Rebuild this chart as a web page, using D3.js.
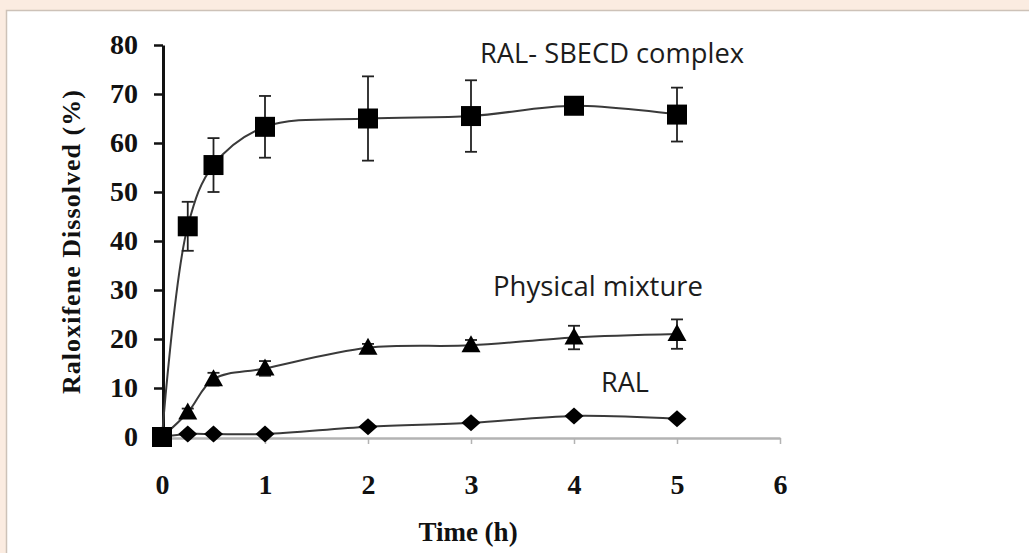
<!DOCTYPE html>
<html>
<head>
<meta charset="utf-8">
<script src="https://cdn.jsdelivr.net/npm/d3@7"></script>
<style>
  html, body { margin: 0; padding: 0; background: #fbece1; }
  svg { display: block; }
</style>
</head>
<body>
<svg id="chart"></svg>
<script>
const width = 1029;
const height = 553;

// sampling times (h)
const times = [0, 0.25, 0.5, 1, 2, 3, 4, 5];
// RAL-SBECD complex
const complexMean = [0, 43, 55.5, 63.3, 65, 65.5, 67.6, 65.8];
const complexErr = [0, 5, 5.5, 6.3, 8.6, 7.3, 0.8, 5.5];
// physical mixture
const mixtureMean = [0, 5, 11.8, 14, 18.2, 18.7, 20.3, 21];
const mixtureErr = [0, 0.8, 1.3, 1.5, 0.8, 1.1, 2.4, 3];
// pure RAL
const ralMean = [0, 0.6, 0.6, 0.6, 2.1, 2.9, 4.3, 3.7];
const ralErr = [0, 0, 0, 0, 0, 0, 0, 0];

const xTicks = [0, 1, 2, 3, 4, 5, 6];
const yTicks = [0, 10, 20, 30, 40, 50, 60, 70, 80];

const seriesNames = ["RAL- SBECD complex", "Physical mixture", "RAL"];

let xScale = d3.scaleLinear()
            .domain([0, 6])
            .range([162, 780]);
let yScale = d3.scaleLinear()
            .domain([0, 80])
            .range([437, 45]);

let svg = d3.select("#chart")
            .attr("width", width)
            .attr("height", height);

// page background + white panel
svg.append("rect")
    .attr("width", width).attr("height", height)
    .attr("fill", "#fbece1");
svg.append("rect")
    .attr("x", 6.5).attr("y", 10.5)
    .attr("width", width).attr("height", height)
    .attr("fill", "#ffffff")
    .attr("stroke", "#cdc2b8")
    .attr("stroke-width", 1.5);

const serif = "'Liberation Serif', 'DejaVu Serif', serif";

//Axes
let xAxis = d3.axisBottom(xScale)
            .tickValues(xTicks)
            .tickFormat(d3.format("d"))
            .tickSizeInner(6)
            .tickSizeOuter(0)
            .tickPadding(30);
let yAxis = d3.axisLeft(yScale)
            .tickValues(yTicks)
            .tickFormat(d3.format("d"))
            .tickSizeInner(9)
            .tickSizeOuter(0)
            .tickPadding(16);

let gx = svg.append("g")
    .attr("transform", `translate(0, ${yScale(0) + 1})`)
    .call(xAxis);
gx.select(".domain").attr("stroke", "#b3b3b3").attr("stroke-width", 2.5);
gx.selectAll(".tick line").attr("stroke", "#b3b3b3").attr("stroke-width", 1.5);
gx.selectAll(".tick text")
    .attr("fill", "#111")
    .style("font-family", serif)
    .style("font-weight", "bold")
    .style("font-size", "28px");

let gy = svg.append("g")
    .attr("transform", `translate(${xScale(0) + 1}, 0)`)
    .call(yAxis);
gy.select(".domain").attr("stroke", "#111").attr("stroke-width", 3);
gy.selectAll(".tick line").attr("stroke", "#111").attr("stroke-width", 2.5);
gy.selectAll(".tick text")
    .attr("fill", "#111")
    .style("font-family", serif)
    .style("font-weight", "bold")
    .style("font-size", "28px");

// axis titles
svg.append("text")
    .attr("transform", "translate(74, 242) rotate(-90)")
    .attr("text-anchor", "middle")
    .attr("dominant-baseline", "middle")
    .attr("textLength", 304)
    .attr("fill", "#111")
    .style("font-family", serif)
    .style("font-weight", "bold")
    .style("font-size", "26px")
    .text("Raloxifene Dissolved (%)");

svg.append("text")
    .attr("x", 468)
    .attr("y", 541)
    .attr("text-anchor", "middle")
    .attr("fill", "#111")
    .style("font-family", serif)
    .style("font-weight", "bold")
    .style("font-size", "27px")
    .text("Time (h)");

// series
const series = [
    { name: seriesNames[2], mean: ralMean, err: ralErr, shape: "diamond" },
    { name: seriesNames[1], mean: mixtureMean, err: mixtureErr, shape: "triangle" },
    { name: seriesNames[0], mean: complexMean, err: complexErr, shape: "square" }
];

let line = d3.line()
    .x(d => xScale(d.t))
    .y(d => yScale(d.v))
    .curve(d3.curveCatmullRom.alpha(0.5));

const shapes = {
    square: "M-10,-10H10V10H-10Z",
    triangle: "M0,-10L9.5,7L-9.5,7Z",
    diamond: "M0,-8.5L9.5,0L0,8.5L-9.5,0Z"
};

series.forEach(s => {
    let pts = times.map((t, i) => ({ t: t, v: s.mean[i], e: s.err[i] }));
    let g = svg.append("g");

    g.append("path")
        .datum(pts)
        .attr("d", line)
        .attr("fill", "none")
        .attr("stroke", "#3a3a3a")
        .attr("stroke-width", 2);

    let eb = g.selectAll(".err")
        .data(pts.filter(d => d.e > 0))
        .enter()
        .append("g")
        .attr("stroke", "#222")
        .attr("stroke-width", 1.8);
    eb.append("line")
        .attr("x1", d => xScale(d.t)).attr("x2", d => xScale(d.t))
        .attr("y1", d => yScale(d.v + d.e)).attr("y2", d => yScale(d.v - d.e));
    eb.append("line")
        .attr("x1", d => xScale(d.t) - 6).attr("x2", d => xScale(d.t) + 6)
        .attr("y1", d => yScale(d.v + d.e)).attr("y2", d => yScale(d.v + d.e));
    eb.append("line")
        .attr("x1", d => xScale(d.t) - 6).attr("x2", d => xScale(d.t) + 6)
        .attr("y1", d => yScale(d.v - d.e)).attr("y2", d => yScale(d.v - d.e));

    g.selectAll(".marker")
        .data(pts)
        .enter()
        .append("path")
        .attr("transform", d => `translate(${xScale(d.t)}, ${yScale(d.v)})`)
        .attr("d", shapes[s.shape])
        .attr("fill", "#000");
});

// series labels
const labelFont = "'Open Sans', Lato, 'Liberation Sans', sans-serif";
svg.append("text")
    .attr("x", 480).attr("y", 63)
    .attr("textLength", 264)
    .attr("lengthAdjust", "spacingAndGlyphs")
    .attr("fill", "#1c1c1c")
    .style("font-family", labelFont)
    .style("font-size", "27px")
    .text(seriesNames[0]);
svg.append("text")
    .attr("x", 493).attr("y", 296)
    .attr("textLength", 210)
    .attr("lengthAdjust", "spacingAndGlyphs")
    .attr("fill", "#1c1c1c")
    .style("font-family", labelFont)
    .style("font-size", "27px")
    .text(seriesNames[1]);
svg.append("text")
    .attr("x", 601).attr("y", 392)
    .attr("fill", "#1c1c1c")
    .style("font-family", labelFont)
    .style("font-size", "27px")
    .text(seriesNames[2]);
</script>
</body>
</html>
